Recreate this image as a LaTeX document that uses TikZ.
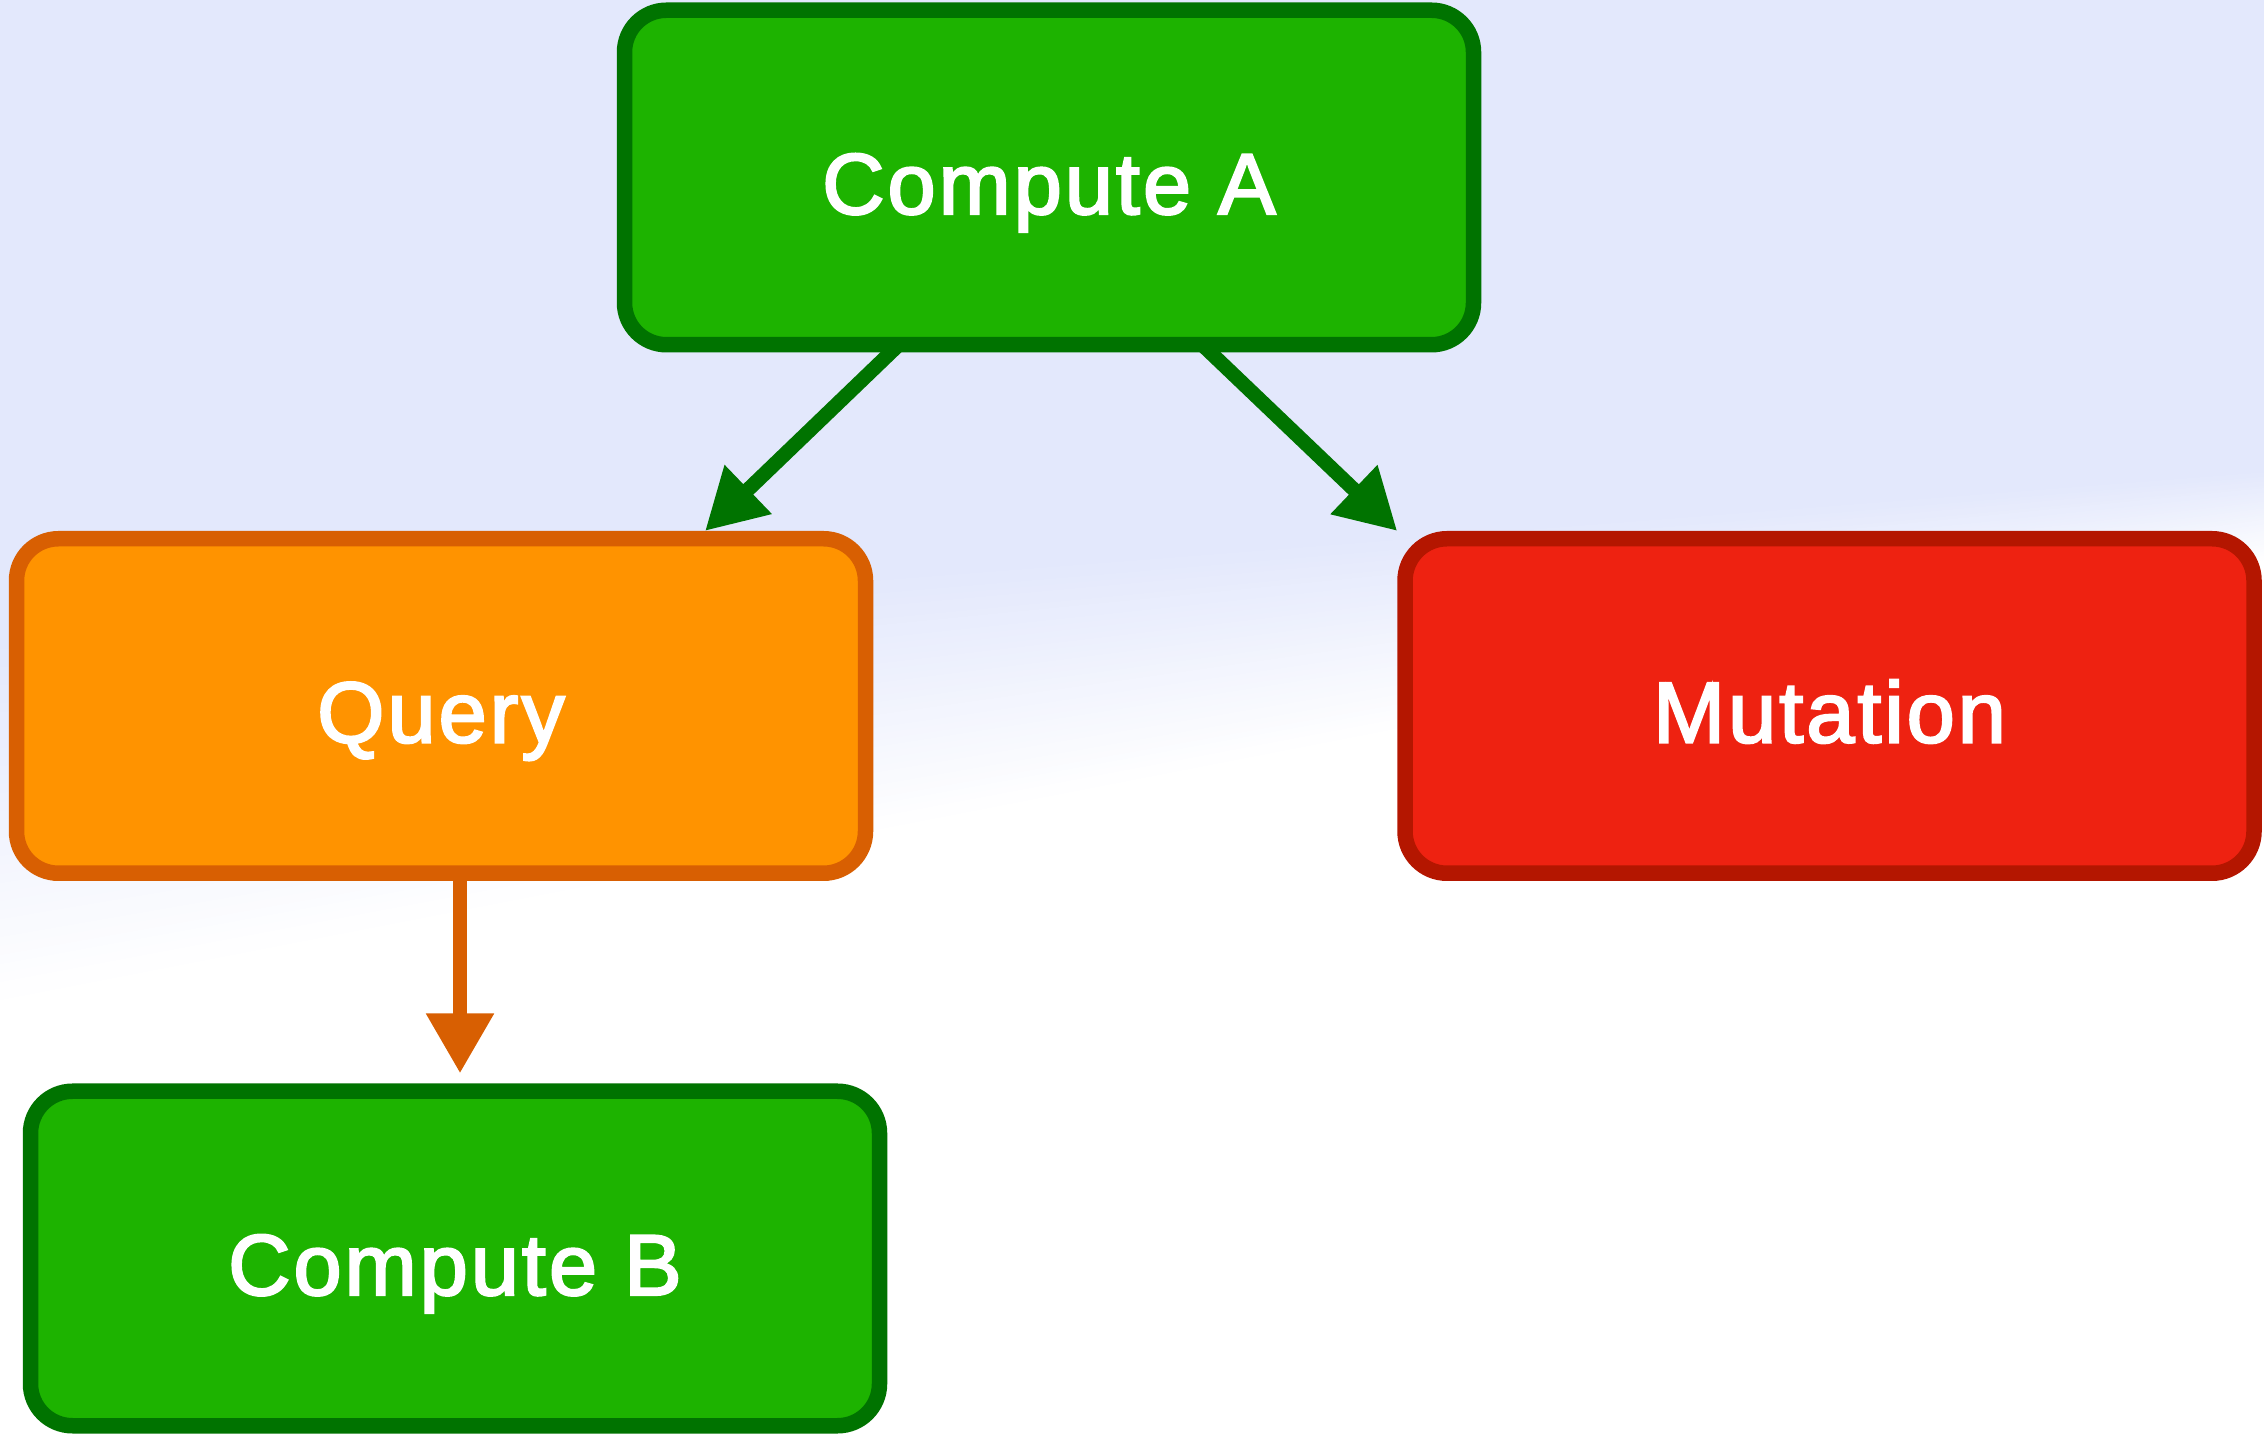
\documentclass[tikz,border=0pt]{standalone}
\usepackage{fontspec}
\setmainfont{Liberation Sans}
\newfontfamily\labelfont{Liberation Sans}[FakeBold=2.6, LetterSpace=3.5]
\usepackage{xcolor}
\usepackage{tikz}
\usetikzlibrary{positioning, arrows.meta, backgrounds}

\definecolor{bglav}{RGB}{227,232,252}
\definecolor{compfill}{RGB}{29,179,0}
\definecolor{compline}{RGB}{0,115,0}
\definecolor{queryfill}{RGB}{255,147,0}
\definecolor{queryline}{RGB}{216,95,2}
\definecolor{mutfill}{RGB}{238,34,17}
\definecolor{mutline}{RGB}{180,22,0}

\tikzset{
  block/.style={draw, rounded corners=0.42cm, line width=0.155cm,
    minimum width=8.49cm, minimum height=3.345cm, text=white,
    text height=0.73cm, text depth=0pt,
    font={\labelfont\fontsize{24.6}{29}\selectfont}},
  compute/.style={block, fill=compfill, draw=compline},
  query/.style={block, fill=queryfill, draw=queryline},
  mutation/.style={block, fill=mutfill, draw=mutline},
  flow/.style={line width=0.145cm, -{Triangle[length=0.6cm, width=0.64cm]}}
}

\begin{document}
\begin{tikzpicture}
        \useasboundingbox (0,0) rectangle (22.64,14.35);

        % Operations
        \node[compute] (compa) at (10.49,12.575) {Compute A};
        \node[query] (query) at (4.41,7.29) {Query};
        \node[mutation] (mutation) at (18.295,7.29) {Mutation};
        \node[compute] (compb) at (4.55,1.765) {Compute B};

        \begin{scope}[on background layer]
          % Background
          \clip (0,0) rectangle (22.64,14.35);
          \fill[bglav] (0,0) rectangle (22.64,14.35);
          \foreach \i [evaluate=\i as \pct using 100-2.5*\i,
                       evaluate=\i as \yl using 7.95-0.09*\i,
                       evaluate=\i as \yr using 9.65-0.0225*\i] in {0,...,40}
            \fill[bglav!\pct!white] (0,\yl) -- (22.64,\yr) -- (22.64,-1) -- (0,-1) -- cycle;

          % Dependencies
          \draw[flow, compline] ([xshift=-1.50cm, yshift=0.08cm]compa.south) -- ([xshift=2.64cm]query.north);
          \draw[flow, compline] ([xshift=1.53cm, yshift=0.08cm]compa.south) -- (mutation.north west);
          \draw[flow, queryline] ([xshift=0.19cm, yshift=0.08cm]query.south) -- ([xshift=0.05cm, yshift=0.1cm]compb.north);
        \end{scope}
\end{tikzpicture}
\end{document}
